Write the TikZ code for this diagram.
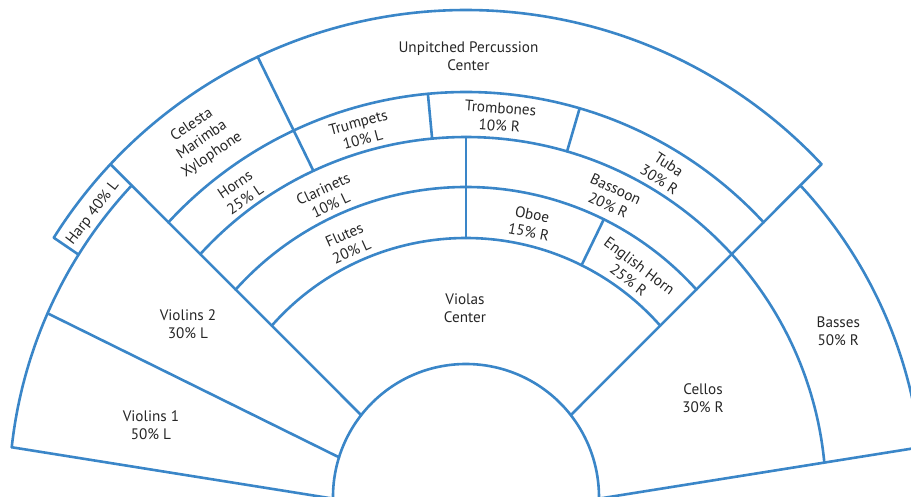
\documentclass[tikz,border=0pt]{standalone}
\usepackage{fontspec}
\setmainfont{PT Sans}
\definecolor{seat}{HTML}{3A86C8}
\definecolor{txt}{HTML}{262626}
\begin{document}
\begin{tikzpicture}[x=1pt,y=1pt,
  seatline/.style={draw=seat,line width=2.6pt,line cap=round,line join=miter},
  lbl/.style={text=txt,font=\fontsize{15.2}{18}\selectfont,align=center,inner sep=0pt}]
\useasboundingbox (-466,0) rectangle (445,497);
\begin{scope}
\clip (-466,0) rectangle (445,497);
% arcs
\draw[seatline] (181:133) arc[start angle=181,end angle=-1,radius=133];
\draw[seatline] (138.6:259) arc[start angle=138.6,end angle=41.4,radius=259];
\draw[seatline] (138.0:310) arc[start angle=138.0,end angle=42.0,radius=310];
\draw[seatline] (137.6:360) arc[start angle=137.6,end angle=5.5,radius=360];
\draw[seatline] (137.3:405) arc[start angle=137.3,end angle=42.7,radius=405];
\draw[seatline] (173.75:457) arc[start angle=173.75,end angle=137.04,radius=457];
\draw[seatline] (42.96:457) arc[start angle=42.96,end angle=6.25,radius=457];
\draw[seatline] (147.83:487) arc[start angle=147.83,end angle=43.1,radius=487];
% dividers
\draw[seatline] (180.7:133) -- (173.75:457);
\draw[seatline] (-0.7:133) -- (6.25:457);
\draw[seatline] (162.64:133) -- (156.30:457);
\draw[seatline] (142.0:133) -- (136.9:487);
\draw[seatline] (38.0:133) -- (43.1:487);
\draw[seatline] (147.97:457) -- (147.83:487);
\draw[seatline] (90:259) -- (90:360);
\draw[seatline] (115.07:360) -- (115.33:487);
\draw[seatline] (95.4:360) -- (95.4:405);
\draw[seatline] (73.7:360) -- (73.7:405);
\draw[seatline] (63.5:259) -- (63.6:310);
\end{scope}
% labels
\node[lbl] (perc) at (2.5,440.5) {Unpitched Percussion\\Center};
\node[lbl,rotate=34] (celesta) at (-264,357) {Celesta\\Marimba\\Xylophone};
\node[lbl,rotate=52] (harp) at (-373,284) {Harp 40\% L};
\node[lbl,rotate=34] (horns) at (-226,305) {Horns\\25\% L};
\node[lbl,rotate=15] (trumpets) at (-105.5,366) {Trumpets\\10\% L};
\node[lbl,rotate=-4] (trombones) at (34,380) {Trombones\\10\% R};
\node[lbl,rotate=-33] (tuba) at (198,325) {Tuba\\30\% R};
\node[lbl,rotate=25] (clarinets) at (-139,300) {Clarinets\\10\% L};
\node[lbl,rotate=24] (flutes) at (-118,254) {Flutes\\20\% L};
\node[lbl,rotate=-11] (oboe) at (64.5,274) {Oboe\\15\% R};
\node[lbl,rotate=-25] (bassoon) at (146,300) {Bassoon\\20\% R};
\node[lbl,rotate=-37] (ehorn) at (168,224) {English Horn\\25\% R};
\node[lbl] (violas) at (-1,188.5) {Violas\\Center};
\node[lbl] (vln2) at (-278,173) {Violins 2\\30\% L};
\node[lbl] (vln1) at (-315,72) {Violins 1\\50\% L};
\node[lbl] (cellos) at (237,99) {Cellos\\30\% R};
\node[lbl] (basses) at (372.3,165.5) {Basses\\50\% R};
\end{tikzpicture}
\end{document}
